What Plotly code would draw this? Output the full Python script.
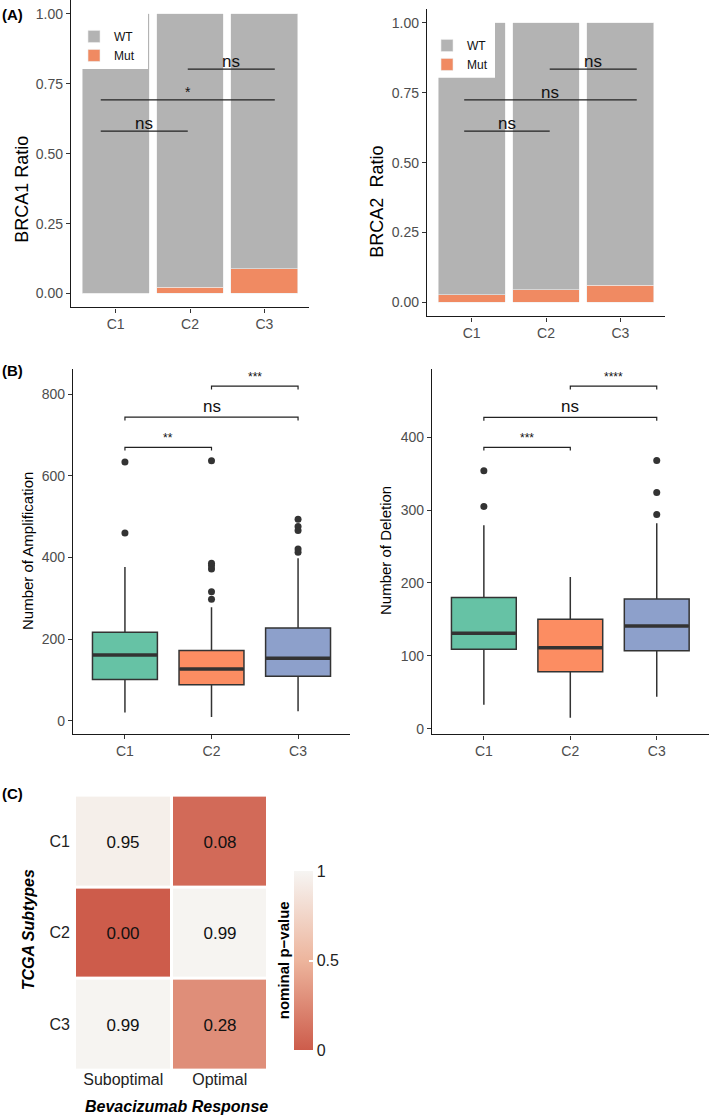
import plotly.graph_objects as go

W, H = 709, 1119
FONT = "Liberation Sans, Arial, sans-serif"

# ---- data ----
groups = ["C1", "C2", "C3"]

brca1_mut = [0.0, 0.022, 0.088]
brca2_mut = [0.028, 0.046, 0.062]

# significance brackets for panel A (x in category units, y level, label)
a1_sig_x = [(-0.2, 0.97), (-0.2, 2.14), (0.97, 2.14)]
a1_sig_y = [0.581, 0.693, 0.803]
a1_sig_lab = ["ns", "*", "ns"]
a2_sig_x = [(-0.1, 1.05), (-0.1, 2.22), (1.05, 2.22)]
a2_sig_y = [0.613, 0.725, 0.835]
a2_sig_lab = ["ns", "ns", "ns"]

# box stats, amplification
amp_q1 = [101, 88, 109]
amp_med = [161, 127, 153]
amp_q3 = [217, 172, 227]
amp_lo = [20, 9, 23]
amp_hi = [377, 278, 398]
amp_out = [[634, 460], [298, 316, 372, 380, 386, 637], [494, 476, 466, 421, 413]]
amp_sig_pairs = [(0, 1), (0, 2), (1, 2)]
amp_sig_y = [670, 744, 820]
amp_sig_lab = ["**", "ns", "***"]

# box stats, deletion
del_q1 = [109, 78, 107]
del_med = [131, 111, 141]
del_q3 = [180, 150, 178]
del_lo = [33, 15, 44]
del_hi = [279, 208, 282]
del_out = [[354, 305], [], [368, 324, 294]]
del_sig_pairs = [(0, 1), (0, 2), (1, 2)]
del_sig_y = [386, 427, 470]
del_sig_lab = ["***", "ns", "****"]

# heatmap
responses = ["Suboptimal", "Optimal"]
pvals = [[0.95, 0.08], [0.00, 0.99], [0.99, 0.28]]

box_colors = ["#66C2A5", "#FC8D62", "#8DA0CB"]
wt_color = "#B3B3B3"
mut_color = "#F08A62"
dark = "#333333"


def px_x(p):
    return p / W


def px_y(p):
    return 1 - p / H


fig = go.Figure()

# ---- panel A: stacked bars ----
for xa, ya, mut, leg in [("x", "y", brca1_mut, "legend"), ("x2", "y2", brca2_mut, "legend2")]:
    wt = [1 - m for m in mut]
    fig.add_trace(go.Bar(x=[0, 1, 2], y=mut, name="Mut",
                         marker=dict(color=mut_color, line=dict(width=0.6, color="#EDEDED")),
                         width=0.9, xaxis=xa, yaxis=ya, legend=leg))
    fig.add_trace(go.Bar(x=[0, 1, 2], y=wt, name="WT",
                         marker=dict(color=wt_color, line=dict(width=0.6, color="#EDEDED")),
                         width=0.9, xaxis=xa, yaxis=ya, legend=leg))

annotations = []


def add_sig(xa, ya, xs, ys, labs, tip, sizes, shifts):
    for (x1, x2), yv, lab in zip(xs, ys, labs):
        if tip > 0:
            px = [x1, x1, x2, x2]
            py = [yv - tip, yv, yv, yv - tip]
        else:
            px = [x1, x2]
            py = [yv, yv]
        fig.add_trace(go.Scatter(x=px, y=py, mode="lines", line=dict(color="#222222", width=1.2),
                                 xaxis=xa, yaxis=ya, showlegend=False, hoverinfo="skip"))
        big = lab == "ns"
        annotations.append(dict(x=(x1 + x2) / 2, y=yv, xref=xa, yref=ya, text=lab, showarrow=False,
                                yanchor="bottom", yshift=shifts[0] if big else shifts[1],
                                font=dict(size=sizes[0] if big else sizes[1], color="#111111")))


add_sig("x", "y", a1_sig_x, a1_sig_y, a1_sig_lab, 0, (17, 14), (-4, -2))
add_sig("x2", "y2", a2_sig_x, a2_sig_y, a2_sig_lab, 0, (17, 14), (-4, -2))

# ---- panel B: box plots ----
for xa, ya, q1, med, q3, lo, hi, outs, pairs, sy, slab, tip in [
    ("x3", "y3", amp_q1, amp_med, amp_q3, amp_lo, amp_hi, amp_out, amp_sig_pairs, amp_sig_y, amp_sig_lab, 8),
    ("x4", "y4", del_q1, del_med, del_q3, del_lo, del_hi, del_out, del_sig_pairs, del_sig_y, del_sig_lab, 4.5),
]:
    for i in range(3):
        fig.add_trace(go.Box(x=[i], q1=[q1[i]], median=[med[i]], q3=[q3[i]], lowerfence=[lo[i]],
                             upperfence=[hi[i]], width=0.75, whiskerwidth=0, fillcolor=box_colors[i],
                             line=dict(color=dark, width=1.5), boxpoints=False, xaxis=xa, yaxis=ya,
                             showlegend=False, hoverinfo="skip"))
        fig.add_trace(go.Scatter(x=[i - 0.37, i + 0.37], y=[med[i], med[i]], mode="lines",
                                 line=dict(color=dark, width=3.5), xaxis=xa, yaxis=ya,
                                 showlegend=False, hoverinfo="skip"))
        if outs[i]:
            fig.add_trace(go.Scatter(x=[i] * len(outs[i]), y=outs[i], mode="markers",
                                     marker=dict(color=dark, size=7), xaxis=xa, yaxis=ya,
                                     showlegend=False, hoverinfo="skip"))
    add_sig(xa, ya, pairs, sy, slab, tip, (17, 12), (-1, 0))

# ---- panel C: heatmap ----
fig.add_trace(go.Heatmap(
    z=pvals, x=responses, y=groups, xaxis="x5", yaxis="y5", zmin=0, zmax=1, xgap=3, ygap=3,
    colorscale=[[0, "#CD5C4B"], [0.5, "#EDB59D"], [1, "#F6F5F3"]],
    texttemplate="%{z:.2f}", textfont=dict(size=17, color="#111111", family=FONT),
    colorbar=dict(x=px_x(294), xanchor="left", xpad=0, y=px_y(962.5), yanchor="middle", ypad=0,
                  thickness=19, thicknessmode="pixels", len=179, lenmode="pixels",
                  tickvals=[0, 0.5, 1], ticktext=["0", "0.5", "1"], ticks="inside",
                  ticklen=4, tickcolor="white", tickwidth=1.5, outlinewidth=0,
                  tickfont=dict(size=16, color="#222222", family=FONT)),
    hoverinfo="skip"))

axis_common = dict(showline=True, linecolor="#1a1a1a", linewidth=1.3, ticks="outside", ticklen=4,
                   tickcolor="#333333", tickwidth=1, showgrid=False, zeroline=False,
                   tickfont=dict(size=14, color="#4D4D4D", family=FONT))

cat_x = dict(tickvals=[0, 1, 2], ticktext=groups, range=[-0.6, 2.6], **axis_common)

legend_style = dict(xanchor="left", yanchor="top", bgcolor="rgba(0,0,0,0)", traceorder="reversed",
                    font=dict(size=12, color="#111111", family=FONT), itemwidth=30, tracegroupgap=0)

fig.update_layout(
    width=W, height=H, margin=dict(l=0, r=0, t=0, b=0),
    paper_bgcolor="white", plot_bgcolor="white", barmode="stack", bargap=0.1,
    font=dict(family=FONT),
    xaxis=dict(domain=[px_x(71), px_x(309)], anchor="y", **cat_x),
    yaxis=dict(domain=[px_y(308), px_y(0)], anchor="x", range=[-0.05, 1.05],
               tickvals=[0, 0.25, 0.5, 0.75, 1], tickformat=".2f", **axis_common),
    xaxis2=dict(domain=[px_x(427), px_x(665)], anchor="y2", **cat_x),
    yaxis2=dict(domain=[px_y(317), px_y(9)], anchor="x2", range=[-0.05, 1.05],
                tickvals=[0, 0.25, 0.5, 0.75, 1], tickformat=".2f", **axis_common),
    xaxis3=dict(domain=[px_x(73), px_x(350)], anchor="y3", **cat_x),
    yaxis3=dict(domain=[px_y(735), px_y(370)], anchor="x3", range=[-31.8, 861.2],
                tickvals=[0, 200, 400, 600, 800], **axis_common),
    xaxis4=dict(domain=[px_x(432), px_x(708.6)], anchor="y4", **cat_x),
    yaxis4=dict(domain=[px_y(735.7), px_y(370)], anchor="x4", range=[-7.8, 493],
                tickvals=[0, 100, 200, 300, 400], **axis_common),
    xaxis5=dict(domain=[px_x(75), px_x(268)], anchor="y5", showline=False, ticks="", showgrid=False,
                zeroline=False, ticklabelstandoff=-2,
                tickfont=dict(size=16, color="#222222", family=FONT)),
    yaxis5=dict(domain=[px_y(1072), px_y(797)], anchor="x5", showline=False, ticks="", showgrid=False,
                zeroline=False, autorange="reversed", ticklabelstandoff=4,
                tickfont=dict(size=16, color="#222222", family=FONT)),
    legend=dict(x=px_x(74), y=px_y(22), **legend_style),
    legend2=dict(x=px_x(427), y=px_y(31), **legend_style),
    showlegend=True,
)

# white backdrop behind the legends, as in the original
fig.add_shape(type="rect", xref="paper", yref="paper", x0=px_x(82), x1=px_x(148), y0=px_y(69), y1=px_y(0),
              fillcolor="white", line=dict(width=0), layer="above")
fig.add_shape(type="rect", xref="paper", yref="paper", x0=px_x(438), x1=px_x(495), y0=px_y(78), y1=px_y(0),
              fillcolor="white", line=dict(width=0), layer="above")

# axis titles and panel labels
texts = [
    ("(A)", 12, 15, 0, dict(size=15, color="black", weight="bold")),
    ("(B)", 12, 371, 0, dict(size=15, color="black", weight="bold")),
    ("(C)", 12, 795, 0, dict(size=15, color="black", weight="bold")),
    ("BRCA1 Ratio", 22, 190, -90, dict(size=18, color="black")),
    ("BRCA2\u00a0 Ratio", 377, 202, -90, dict(size=18, color="black")),
    ("Number of Amplification", 27, 552, -90, dict(size=15, color="black")),
    ("Number of Deletion", 385, 552, -90, dict(size=15, color="black")),
    ("TCGA Subtypes", 28, 932, -90, dict(size=16, color="black", weight="bold", style="italic")),
    ("Bevacizumab Response", 176, 1108, 0, dict(size=16, color="black", weight="bold", style="italic")),
    ("nominal p\u2212value", 283, 962, -90, dict(size=15, color="black", weight="bold")),
]
for t, x, y, ang, f in texts:
    f = dict(f, family=FONT)
    annotations.append(dict(text=t, x=px_x(x), y=px_y(y), xref="paper", yref="paper", showarrow=False,
                            textangle=ang, xanchor="center", yanchor="middle", font=f))

fig.update_layout(annotations=annotations)

# drop the default page margin so the figure sits at the window's corner
fig.write_html("out.html", config={"displayModeBar": False},
               post_script="document.body.style.margin='0';")
